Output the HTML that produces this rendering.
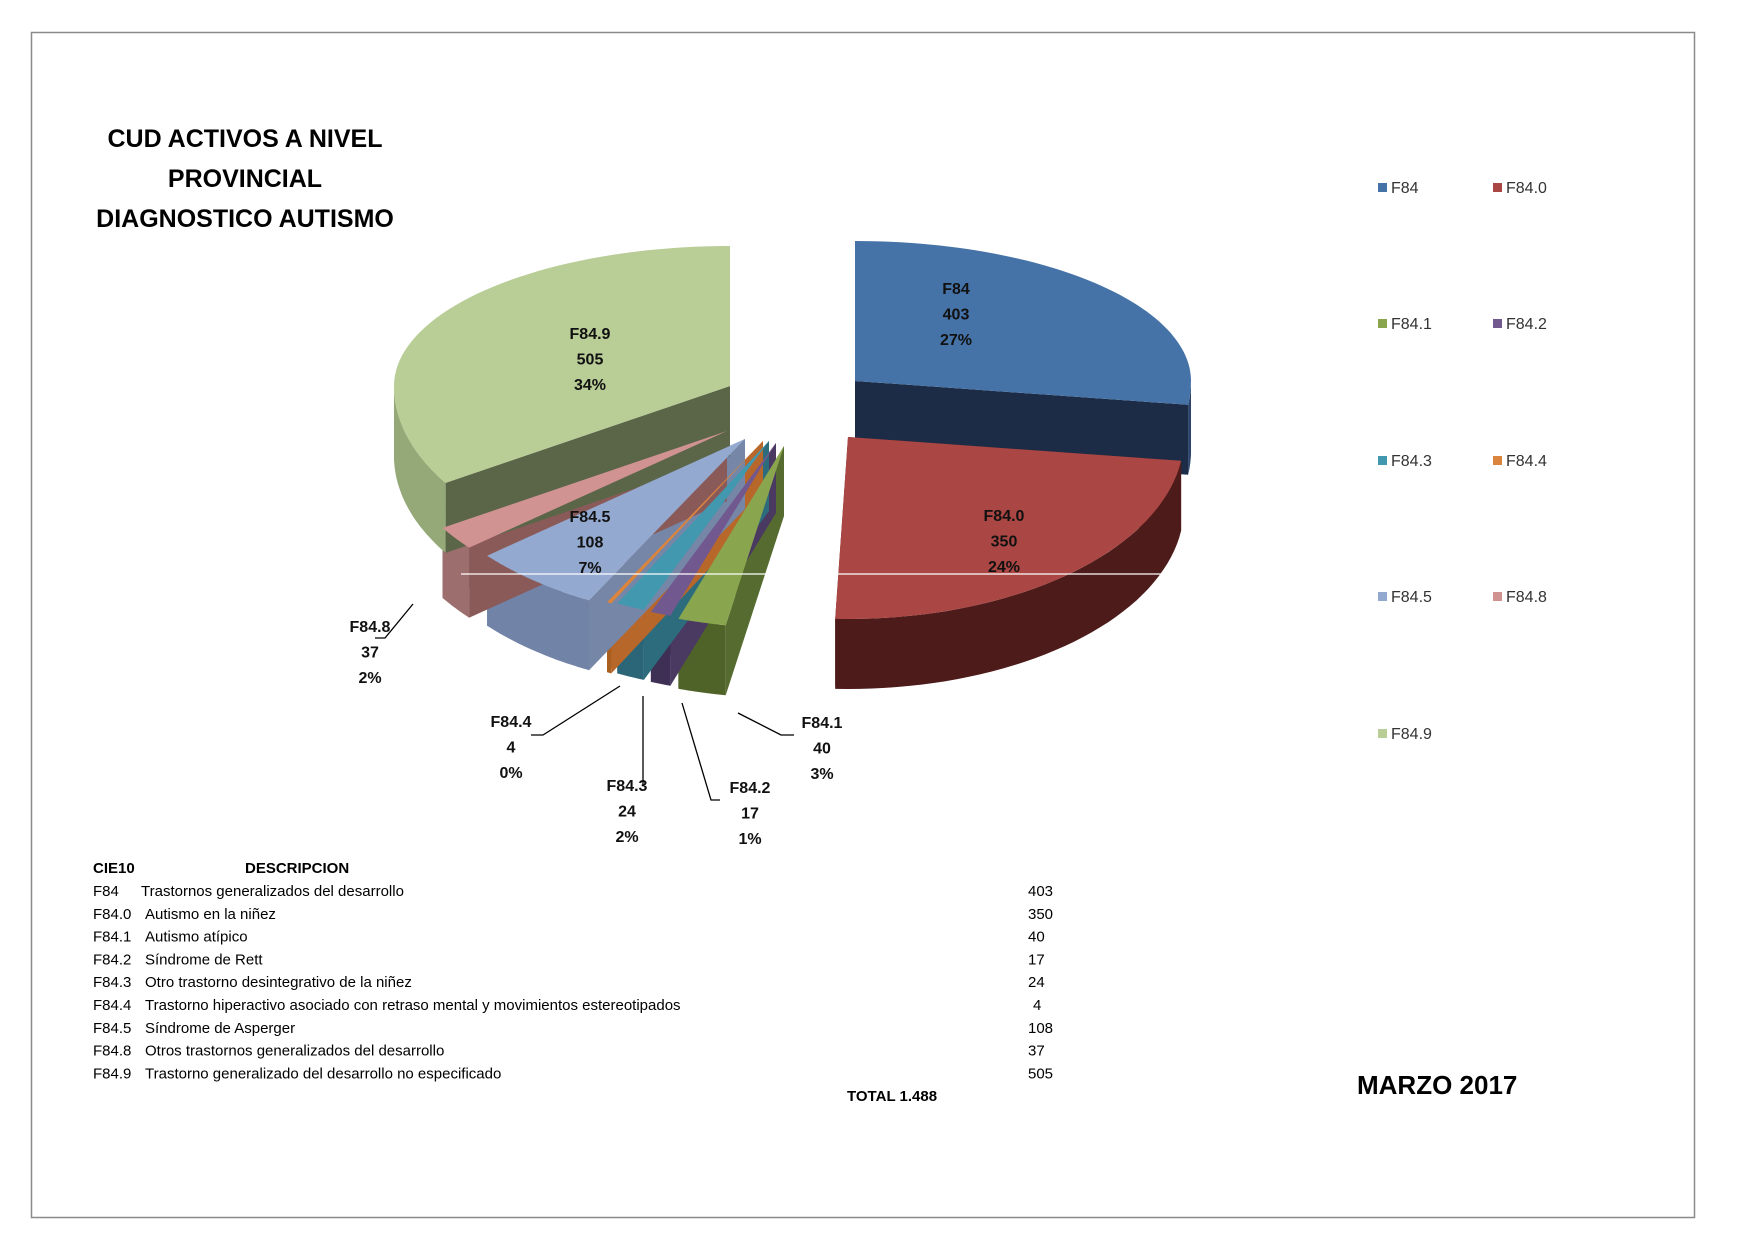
<!DOCTYPE html>
<html><head><meta charset="utf-8"><style>
html,body{margin:0;padding:0;background:#fff;}
svg{display:block;font-family:"Liberation Sans",sans-serif;}
</style></head><body>
<svg id="chart" width="1754" height="1240" viewBox="0 0 1754 1240">
<defs><clipPath id="plotclip"><rect x="0" y="0" width="1754" height="848"/></clipPath></defs>
<rect x="31.5" y="32.5" width="1663" height="1185" fill="#fff" stroke="#8a8a8a" stroke-width="1.5"/>
<g font-weight="bold" font-size="25" text-anchor="middle" fill="#000">
<text x="245" y="147">CUD ACTIVOS A NIVEL</text>
<text x="245" y="187">PROVINCIAL</text>
<text x="245" y="227">DIAGNOSTICO AUTISMO</text>
</g>
<g id="pie" clip-path="url(#plotclip)"></g>
<g id="labels" clip-path="url(#plotclip)"></g>
<line x1="461" y1="574" x2="1185" y2="574" stroke="#fff" stroke-width="1.2"/>
<g id="legend"></g>
<g id="table" font-size="15" fill="#000"></g>
<text x="1357" y="1094" font-size="26" font-weight="bold">MARZO 2017</text>
</svg>
<script>
const codes = ["F84","F84.0","F84.1","F84.2","F84.3","F84.4","F84.5","F84.8","F84.9"];
const values = [403,350,40,17,24,4,108,37,505];
const descriptions = ["Trastornos generalizados del desarrollo","Autismo en la niñez","Autismo atípico","Síndrome de Rett","Otro trastorno desintegrativo de la niñez","Trastorno hiperactivo asociado con retraso mental y movimientos estereotipados","Síndrome de Asperger","Otros trastornos generalizados del desarrollo","Trastorno generalizado del desarrollo no especificado"];

// styling/layout (not data)
const topColors = ["#4572A7","#AA4643","#89A54E","#71588F","#4198AF","#DB843D","#93A9CF","#D19392","#B9CD96"];
const cutColors = ["#1c2c47","#5a201e","#566b2f","#4a3a62","#2c6c7d","#b8672a","#7686a6","#8a5a59","#5b6649"];
const wallColors = ["#2b4468","#4d1b1a","#4f6328","#3e2f55","#2a6677","#a9601f","#7283a8","#9c6e6d","#95a877"];
const centers = [[855,381],[848,437],[784,446],[776,443],[769,441],[763,441],[745,439],[727,431],[730,386]];
const labelPos = [[956,294],[1004,521],[822,728],[750,793],[627,791],[511,727],[590,522],[370,632],[590,339]];
const leaders = [null,null,[[794,735],[781,735],[738,713]],[[720,800],[711,800],[682,703]],[[643,786],[643,696]],[[531,735],[543,735],[620,686]],null,[[375,638],[385,638],[413,604]],null];
const RX=336, RYF=140, RYN=182, H=70;

const NS="http://www.w3.org/2000/svg";
const total = values.reduce((a,b)=>a+b,0);
const starts=[]; let acc=0;
values.forEach(v=>{starts.push(acc/total*360); acc+=v;});
const ends = values.map((v,i)=>starts[i]+v/total*360);
const leftStart = starts[2], lastStart = starts[starts.length-1];
function vis(a,i){
  if(i<2 || a>=lastStart) return a;
  return lastStart + (a-lastStart)*((lastStart-190)/(lastStart-leftStart));
}
function pt(c,t,dz){
  const r=t*Math.PI/180, co=Math.cos(r);
  return [c[0]+RX*Math.sin(r), c[1]-co*(co>=0?RYF:RYN)+dz];
}
function poly(g,pts,fill,name){
  const p=document.createElementNS(NS,"polygon");
  p.setAttribute("points",pts.map(q=>q[0].toFixed(1)+","+q[1].toFixed(1)).join(" "));
  p.setAttribute("fill",fill);
  
  
  g.appendChild(p);
}
const pie=document.getElementById("pie");
const walls=document.createElementNS(NS,"g"), tops=document.createElementNS(NS,"g");
pie.appendChild(walls); pie.appendChild(tops);
values.forEach((v,i)=>{
  const c=centers[i], s=vis(starts[i],i), e=vis(ends[i],i);
  const cb=[c[0],c[1]+H];
  [s,e].forEach(t=>{ poly(walls,[c,pt(c,t,0),pt(c,t,H),cb],cutColors[i],"slice-cut-"+codes[i]); });
  const a0=Math.max(s,90), a1=Math.min(e,270);
  if(a1>a0){
    const topArc=[], bot=[];
    for(let k=0;k<=40;k++){const t=a0+(a1-a0)*k/40; topArc.push(pt(c,t,0)); bot.push(pt(c,t,H));}
    poly(walls,topArc.concat(bot.reverse()),wallColors[i],"slice-wall-"+codes[i]);
  }
  const face=[c];
  for(let k=0;k<=60;k++){face.push(pt(c,s+(e-s)*k/60,0));}
  poly(tops,face,topColors[i],"slice-"+codes[i]);
});
const labels=document.getElementById("labels");
values.forEach((v,i)=>{
  const [x,y]=labelPos[i];
  const lines=[codes[i], String(v), Math.round(v/total*100)+"%"];
  lines.forEach((s,k)=>{
    const t=document.createElementNS(NS,"text");
    t.setAttribute("x",x); t.setAttribute("y",y+k*25.5);
    t.setAttribute("text-anchor","middle"); t.setAttribute("font-size","16"); t.setAttribute("font-weight","bold"); t.setAttribute("fill","#111");
    
    
    t.textContent=s; labels.appendChild(t);
  });
  if(leaders[i]){
    const pl=document.createElementNS(NS,"polyline");
    pl.setAttribute("points",leaders[i].map(q=>q.join(",")).join(" "));
    pl.setAttribute("fill","none"); pl.setAttribute("stroke","#000"); pl.setAttribute("stroke-width","1.3");
    
    
    labels.appendChild(pl);
  }
});
const legend=document.getElementById("legend");
const legRows=[193,329,466,602,739], legCols=[1378,1493];
codes.forEach((cd,i)=>{
  const x=legCols[i%2], y=legRows[Math.floor(i/2)];
  const r=document.createElementNS(NS,"rect");
  r.setAttribute("x",x); r.setAttribute("y",y-10); r.setAttribute("width",9); r.setAttribute("height",9); r.setAttribute("fill",topColors[i]);
  
  
  legend.appendChild(r);
  const t=document.createElementNS(NS,"text");
  t.setAttribute("x",x+13); t.setAttribute("y",y); t.setAttribute("font-size","16"); t.setAttribute("fill","#333");
  
  
  t.textContent=cd; legend.appendChild(t);
});
const table=document.getElementById("table");
function tx(x,y,s,bold,name){
  const t=document.createElementNS(NS,"text");
  t.setAttribute("x",x); t.setAttribute("y",y); if(bold) t.setAttribute("font-weight","bold");
  
  
  t.textContent=s; table.appendChild(t);
}
tx(93,873,"CIE10",true,"table-header-cie10");
tx(245,873,"DESCRIPCION",true,"table-header-descripcion");
codes.forEach((cd,i)=>{
  const y=896+i*22.8;
  tx(93,y,cd,false,"table-code-"+cd);
  tx(i===0?141:145,y,descriptions[i],false,"table-description-"+cd);
  tx(values[i]<10?1033:1028,y,String(values[i]),false,"table-value-"+cd);
});
tx(847,1101,"TOTAL "+total.toLocaleString("de-DE"),true,"table-total");
</script>
</body></html>
